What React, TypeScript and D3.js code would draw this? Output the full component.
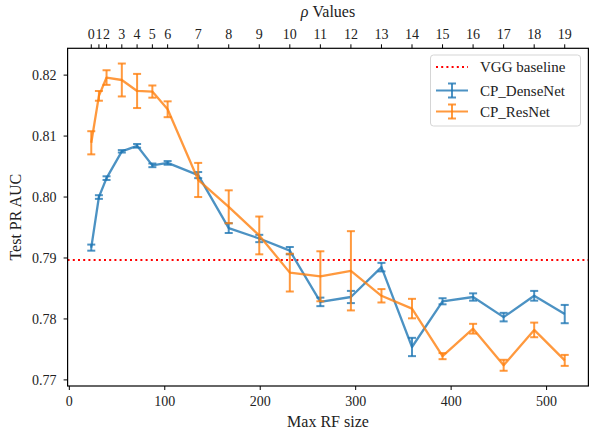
import React from "react";
import * as d3 from "d3";

const rfSizes = [23, 31, 39, 55, 71, 87, 103, 135, 167, 199, 231, 263, 295, 327, 359, 391, 423, 455, 487, 519];
const rhoLabels = ["0", "1", "2", "3", "4", "5", "6", "7", "8", "9", "10", "11", "12", "13", "14", "15", "16", "17", "18", "19"];

const denseMean = [0.7917, 0.8000, 0.8031, 0.8075, 0.8084, 0.8052, 0.8056, 0.8036, 0.7949, 0.7932, 0.7912, 0.7828, 0.7836, 0.7885, 0.7754, 0.7829, 0.7836, 0.7803, 0.7838, 0.7808];
const denseErr = [0.0005, 0.0003, 0.0003, 0.0002, 0.0003, 0.0003, 0.0003, 0.0005, 0.0008, 0.0006, 0.0006, 0.0007, 0.0010, 0.0007, 0.0015, 0.0005, 0.0006, 0.0007, 0.0008, 0.0015];

const resMean = [0.8089, 0.8166, 0.8196, 0.8192, 0.8174, 0.8173, 0.8144, 0.8028, 0.7984, 0.7937, 0.7876, 0.7870, 0.7879, 0.7838, 0.7817, 0.7739, 0.7784, 0.7724, 0.7782, 0.7732];
const resErr = [0.0019, 0.0008, 0.0012, 0.0027, 0.0028, 0.0010, 0.0013, 0.0028, 0.0027, 0.0031, 0.0031, 0.0041, 0.0065, 0.0011, 0.0016, 0.0005, 0.0008, 0.0009, 0.0012, 0.0009];

const vggBaseline = 0.78965;

const xTicks = [0, 100, 200, 300, 400, 500];
const yTicks = [0.77, 0.78, 0.79, 0.8, 0.81, 0.82];

const W = 589;
const H = 430;
const left = 67.6;
const right = 588.4;
const top = 48.3;
const bottom = 386;

const FONT = "'Liberation Serif', 'DejaVu Serif', serif";
const BLUE = "#1f77b4";
const ORANGE = "#ff7f0e";

export default function App() {
  const x = d3.scaleLinear().domain([-1.8, 543.8]).range([left, right]);
  const y = d3.scaleLinear().domain([0.769, 0.8244]).range([bottom, top]);
  const line = d3
    .line<[number, number]>()
    .x((d) => x(d[0]))
    .y((d) => y(d[1]));

  const cap = 4;

  const series = [
    { name: "CP_DenseNet", mean: denseMean, err: denseErr, color: BLUE },
    { name: "CP_ResNet", mean: resMean, err: resErr, color: ORANGE },
  ];

  return (
    <svg
      width={W}
      height={H}
      style={{ position: "absolute", left: 0, top: 0, background: "#fff" }}
      fontFamily={FONT}
    >
      <rect x={0} y={0} width={W} height={H} fill="#fff" />
      <line
        x1={left}
        x2={right}
        y1={y(vggBaseline)}
        y2={y(vggBaseline)}
        stroke="red"
        strokeWidth={2}
        strokeDasharray="2 3.2"
      />
      {series.map((s) => (
        <g key={s.name}>
          <path
            d={line(rfSizes.map((r, i) => [r, s.mean[i]] as [number, number])) || ""}
            fill="none"
            stroke={s.color}
            strokeOpacity={0.8}
            strokeWidth={2.3}
            strokeLinejoin="round"
          />
          {rfSizes.map((r, i) => {
            const cx = x(r);
            const y1 = y(s.mean[i] - s.err[i]);
            const y2 = y(s.mean[i] + s.err[i]);
            return (
              <g key={i} stroke={s.color} strokeOpacity={0.8} strokeWidth={2}>
                <line x1={cx} x2={cx} y1={y1} y2={y2} />
                <line x1={cx - cap} x2={cx + cap} y1={y1} y2={y1} />
                <line x1={cx - cap} x2={cx + cap} y1={y2} y2={y2} />
              </g>
            );
          })}
        </g>
      ))}

      <rect x={left} y={top} width={right - left} height={bottom - top} fill="none" stroke="#000" strokeWidth={1.2} />

      {xTicks.map((t) => (
        <g key={t}>
          <line x1={x(t)} x2={x(t)} y1={bottom} y2={bottom + 4} stroke="#000" strokeWidth={1} />
          <text x={x(t)} y={bottom + 19.5} textAnchor="middle" fontSize={14} fill="#222">
            {t}
          </text>
        </g>
      ))}
      <text x={(left + right) / 2} y={427} textAnchor="middle" fontSize={16} fill="#222">
        Max RF size
      </text>

      {yTicks.map((t) => (
        <g key={t}>
          <line x1={left - 4} x2={left} y1={y(t)} y2={y(t)} stroke="#000" strokeWidth={1} />
          <text x={left - 11} y={y(t) + 5} textAnchor="end" fontSize={14} fill="#222">
            {d3.format(".2f")(t)}
          </text>
        </g>
      ))}
      <text
        transform={`translate(21, ${(top + bottom) / 2}) rotate(-90)`}
        textAnchor="middle"
        fontSize={16}
        fill="#222"
      >
        Test PR AUC
      </text>

      {rfSizes.map((r, i) => (
        <g key={i}>
          <line x1={x(r)} x2={x(r)} y1={top - 4} y2={top} stroke="#000" strokeWidth={1} />
          <text x={x(r)} y={top - 9} textAnchor="middle" fontSize={14} fill="#222">
            {rhoLabels[i]}
          </text>
        </g>
      ))}
      <text x={(left + right) / 2} y={17} textAnchor="middle" fontSize={16} fill="#222">
        <tspan fontStyle="italic">ρ</tspan> Values
      </text>

      <g>
        <rect x={430.5} y={55} width={150} height={71} rx={3} fill="#fff" fillOpacity={0.85} stroke="#d5d5d5" strokeWidth={1} />
        <line x1={436} x2={468} y1={67} y2={67} stroke="red" strokeWidth={2} strokeDasharray="2 3.2" />
        <text x={480} y={72} fontSize={15} fill="#222">VGG baseline</text>
        {series.map((s, k) => {
          const ly = 90.5 + k * 21;
          return (
            <g key={s.name}>
              <g stroke={s.color} strokeOpacity={0.8} strokeWidth={2}>
                <line x1={436} x2={468} y1={ly} y2={ly} />
                <line x1={452} x2={452} y1={ly - 7} y2={ly + 7} />
                <line x1={452 - cap} x2={452 + cap} y1={ly - 7} y2={ly - 7} />
                <line x1={452 - cap} x2={452 + cap} y1={ly + 7} y2={ly + 7} />
              </g>
              <text x={480} y={ly + 5} fontSize={15} fill="#222">
                {s.name}
              </text>
            </g>
          );
        })}
      </g>
    </svg>
  );
}
